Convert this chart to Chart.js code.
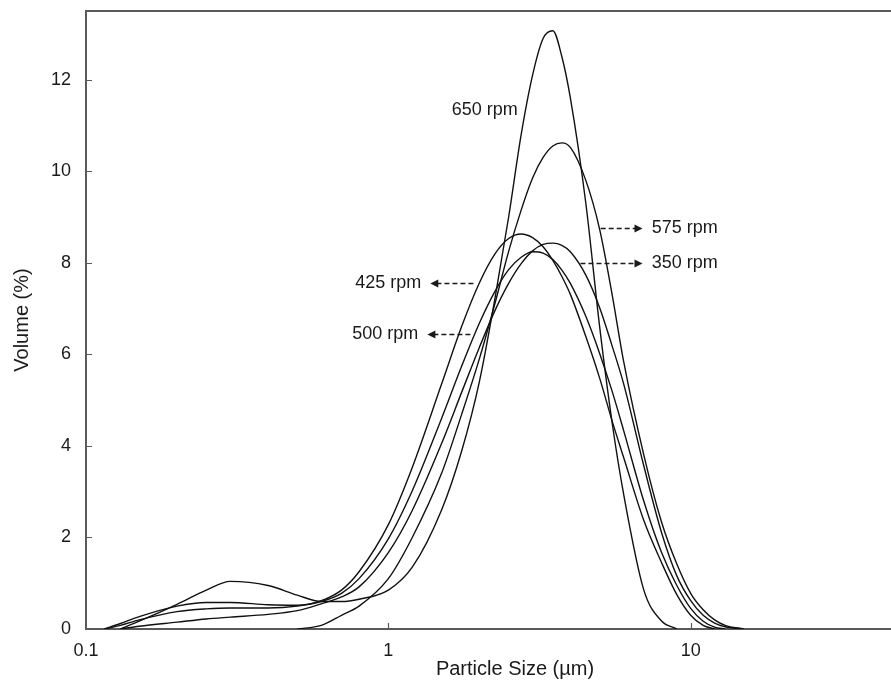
<!DOCTYPE html>
<html>
<head>
<meta charset="utf-8">
<title>Particle size distribution</title>
<script src="https://cdn.jsdelivr.net/npm/chart.js@4.4.1/dist/chart.umd.min.js"></script>
<style>
  html, body { margin: 0; padding: 0; background: #fff; overflow: hidden; }
  #wrap { width: 993px; height: 684px; }
</style>
</head>
<body>
<div id="wrap"><canvas id="psd"></canvas></div>
<script>
// particle size classes (µm)
const sizes = [0.115, 0.13, 0.15, 0.2, 0.25, 0.3, 0.4, 0.5, 0.6, 0.7, 0.8, 1.0, 1.2, 1.5, 1.75,
  2.0, 2.25, 2.5, 2.75, 3.0, 3.25, 3.5, 3.75, 4.0, 4.5, 5.0, 5.5, 6.0, 7.0, 8.0, 9.0,
  10, 11, 12, 13, 15, 16];

// volume % per size class, one list per stirring speed
const vol350 = [null, 0, 0.06, 0.15, 0.22, 0.26, 0.32, 0.40, 0.55, 0.70, 0.92, 1.67, 2.59, 4.05, 5.18,
  6.15, 6.95, 7.55, 7.98, 8.26, 8.40, 8.43, 8.38, 8.24, 7.73, 7.02, 6.18, 5.36, 3.56, 2.12, 1.16,
  0.62, 0.30, 0.13, 0.05, 0, null];
const vol425 = [0, 0.12, 0.27, 0.50, 0.58, 0.58, 0.53, 0.52, 0.62, 0.85, 1.25, 2.28, 3.53, 5.35, 6.62,
  7.56, 8.19, 8.53, 8.63, 8.55, 8.35, 8.05, 7.70, 7.31, 6.39, 5.48, 4.54, 3.75, 2.37, 1.46, 0.75,
  0.30, 0.08, 0, null, null, null];
const vol500 = [0, 0.08, 0.20, 0.38, 0.44, 0.46, 0.46, 0.50, 0.60, 0.78, 1.10, 1.97, 3.02, 4.60, 5.75,
  6.68, 7.37, 7.85, 8.12, 8.24, 8.21, 8.07, 7.84, 7.55, 6.83, 6.02, 5.19, 4.34, 2.79, 1.68, 0.95,
  0.45, 0.17, 0.04, 0, null, null];
const vol575 = [null, null, null, null, null, null, null, 0, 0.08, 0.30, 0.50, 1.10, 2.00, 3.40, 4.70,
  5.90, 7.10, 8.25, 9.15, 9.85, 10.30, 10.55, 10.62, 10.52, 9.80, 8.73, 7.30, 5.85, 3.80, 2.35, 1.42,
  0.78, 0.42, 0.20, 0.08, 0, null];
const vol650 = [null, 0, 0.17, 0.54, 0.85, 1.04, 0.95, 0.74, 0.60, 0.60, 0.65, 0.85, 1.35, 2.60, 3.90,
  5.40, 7.20, 9.00, 10.80, 12.10, 12.90, 13.07, 12.50, 11.60, 9.30, 6.60, 4.50, 2.95, 0.85, 0.18, 0,
  null, null, null, null, null, null];

const xTicks = [0.1, 1, 10];
const yTicks = [0, 2, 4, 6, 8, 10, 12];

// rpm labels with their dashed pointers (x in µm, y in %)
const callouts = [
  { text: '650 rpm', x: 1.62, y: 11.34, align: 'left' },
  { text: '575 rpm', x: 7.43, y: 8.76, align: 'left', from: 5.04, to: 6.93 },
  { text: '350 rpm', x: 7.43, y: 7.99, align: 'left', from: 4.32, to: 6.93 },
  { text: '425 rpm', x: 1.286, y: 7.56, align: 'right', from: 1.912, to: 1.377 },
  { text: '500 rpm', x: 1.257, y: 6.44, align: 'right', from: 1.868, to: 1.346 }
];

const FAMILY = 'Liberation Sans, Arial, sans-serif';
const FONT = { family: FAMILY, size: 18 };
const TITLE_FONT = { family: FAMILY, size: 20 };
const INK = '#1a1a1a';
const AXIS = '#5a5a5a';
const X_TITLE = { text: 'Particle Size (µm)', centerX: 515, centerY: 669 };

const series = [vol350, vol425, vol500, vol575, vol650];
const names = ['350 rpm', '425 rpm', '500 rpm', '575 rpm', '650 rpm'];

const datasets = series.map((vals, i) => ({
  label: names[i],
  data: sizes.map((s, j) => ({ x: s, y: vals[j] })),
  borderColor: '#111',
  borderWidth: 1.4,
  pointRadius: 0,
  fill: false,
  cubicInterpolationMode: 'monotone',
  spanGaps: false
}));

// inward tick marks, top frame line, x caption and the rpm callouts
const decorations = {
  id: 'decorations',
  afterDraw(chart) {
    const { ctx, chartArea: a, scales: { x, y } } = chart;
    ctx.save();
    ctx.strokeStyle = AXIS;
    ctx.lineWidth = 2;
    ctx.beginPath();
    ctx.moveTo(a.left - 1, a.top);
    ctx.lineTo(a.right, a.top);
    ctx.stroke();

    ctx.lineWidth = 1.2;
    ctx.beginPath();
    yTicks.forEach(v => {
      if (v === 0) return;
      const py = Math.round(y.getPixelForValue(v)) + 0.5;
      ctx.moveTo(a.left, py);
      ctx.lineTo(a.left + 6, py);
    });
    xTicks.forEach(v => {
      if (v === xTicks[0]) return;
      const px = Math.round(x.getPixelForValue(v)) + 0.5;
      ctx.moveTo(px, a.bottom);
      ctx.lineTo(px, a.bottom - 6);
    });
    ctx.stroke();

    ctx.fillStyle = INK;
    ctx.strokeStyle = INK;
    ctx.textBaseline = 'middle';
    ctx.textAlign = 'center';
    ctx.font = `${TITLE_FONT.size}px ${TITLE_FONT.family}`;
    ctx.fillText(X_TITLE.text, X_TITLE.centerX, X_TITLE.centerY);

    ctx.font = `${FONT.size}px ${FONT.family}`;
    callouts.forEach(c => {
      const py = y.getPixelForValue(c.y);
      ctx.textAlign = c.align;
      ctx.fillText(c.text, x.getPixelForValue(c.x), py);
      if (c.from === undefined) return;
      const x0 = x.getPixelForValue(c.from);
      const x1 = x.getPixelForValue(c.to);
      const dir = Math.sign(x1 - x0);
      const yy = Math.round(py) + 0.5;
      ctx.lineWidth = 1.3;
      ctx.setLineDash([5, 3]);
      ctx.beginPath();
      ctx.moveTo(x0, yy);
      ctx.lineTo(x1 - dir * 7, yy);
      ctx.stroke();
      ctx.setLineDash([]);
      ctx.beginPath();
      ctx.moveTo(x1, yy);
      ctx.lineTo(x1 - dir * 8, yy - 4);
      ctx.lineTo(x1 - dir * 8, yy + 4);
      ctx.closePath();
      ctx.fill();
    });
    ctx.restore();
  }
};

new Chart(document.getElementById('psd'), {
  type: 'line',
  data: { datasets },
  plugins: [decorations],
  options: {
    responsive: true,
    maintainAspectRatio: false,
    devicePixelRatio: 1,
    animation: false,
    layout: { padding: { top: 11, left: 0, right: 0, bottom: 0 } },
    plugins: {
      legend: { display: false },
      tooltip: { enabled: false }
    },
    scales: {
      x: {
        type: 'logarithmic',
        min: 0.1,
        max: 100,
        afterBuildTicks: s => { s.ticks = xTicks.map(v => ({ value: v })); },
        afterFit: s => { s.height = 55; s.paddingLeft = 0; s.paddingRight = 0; },
        border: { display: true, color: AXIS, width: 2 },
        grid: { display: false, drawTicks: false },
        ticks: {
          padding: 11,
          color: INK,
          font: FONT,
          maxRotation: 0,
          autoSkip: false,
          callback: v => String(v)
        }
      },
      y: {
        min: 0,
        max: 13.5,
        afterBuildTicks: s => { s.ticks = yTicks.map(v => ({ value: v })); },
        afterFit: s => { s.width = 86; s.paddingTop = 0; s.paddingBottom = 0; },
        border: { display: true, color: AXIS, width: 2 },
        grid: { display: false, drawTicks: false },
        ticks: { padding: 15, color: INK, font: FONT, callback: v => String(v) },
        title: {
          display: true,
          text: 'Volume (%)',
          color: INK,
          font: TITLE_FONT,
          padding: { top: 10, bottom: 0 }
        }
      }
    }
  }
});
</script>
</body>
</html>
